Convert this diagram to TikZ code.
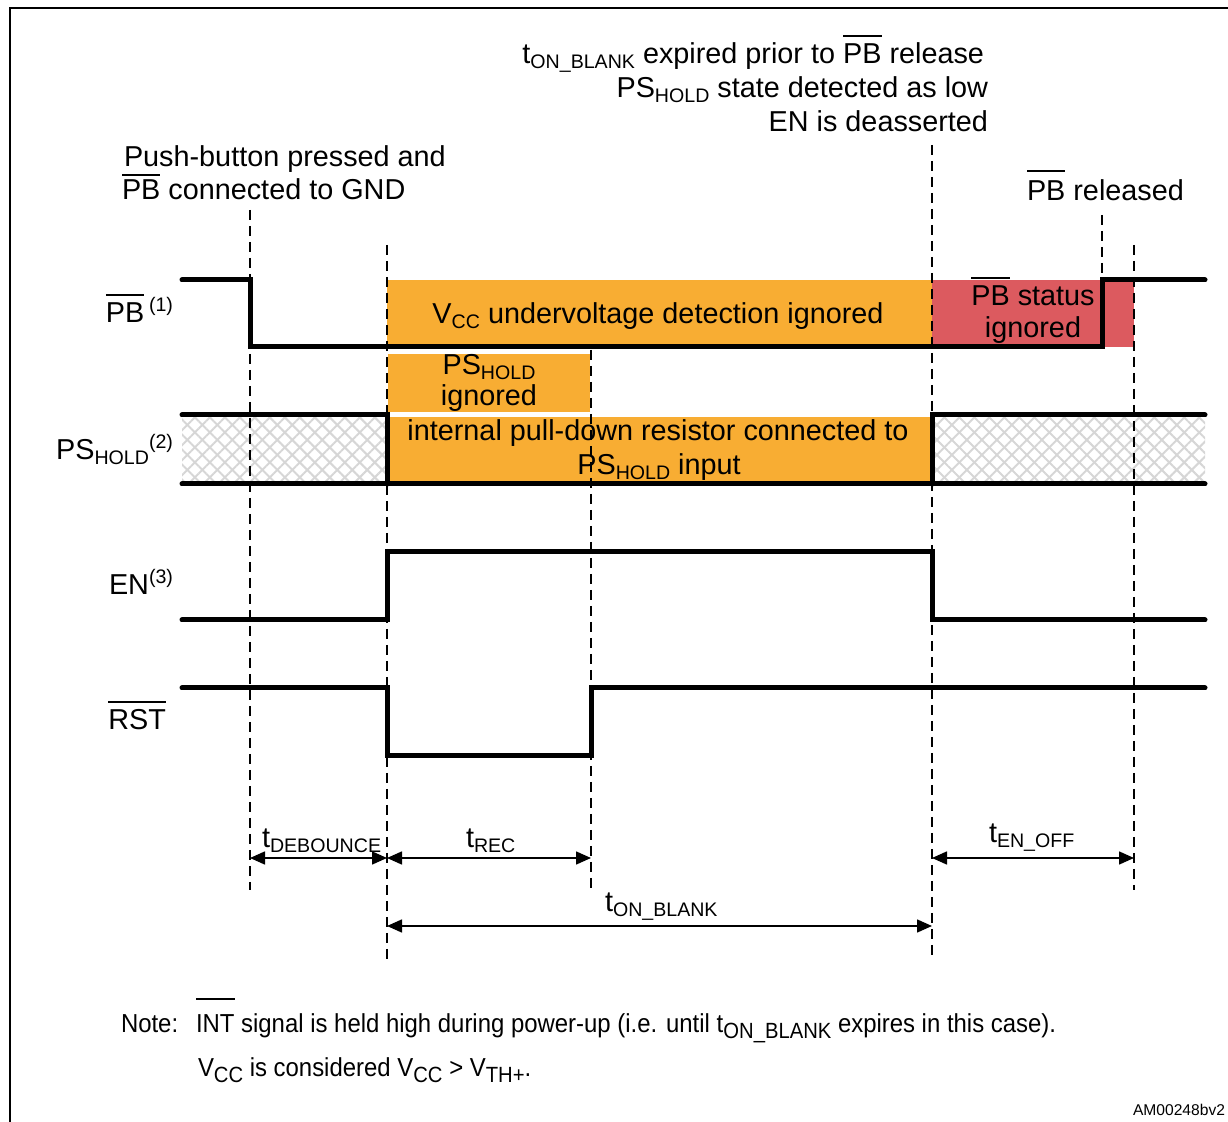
\documentclass[tikz,border=0pt]{standalone}
\usepackage{fontspec}
\setmainfont{Liberation Sans}
\newfontfamily\narrowfont[FakeStretch=0.92]{Liberation Sans}
\usetikzlibrary{arrows.meta,patterns.meta}
\definecolor{ignorange}{RGB}{248,173,51}
\definecolor{ignred}{RGB}{220,90,95}
\newcommand\sbs[1]{\raisebox{-2.2pt}{\fontsize{9.8}{10}\selectfont #1}}
\newcommand\sps[1]{\raisebox{5.5pt}{\fontsize{9.8}{10}\selectfont #1}}
\newcommand\nsb[1]{\raisebox{-3pt}{\fontsize{11}{11}\selectfont #1}}
\newcommand\ovl[2][13.5pt]{\setbox0\hbox{#2}\rlap{\raisebox{#1}{\rule{\wd0}{0.8pt}}}\box0\relax}
\begin{document}
\begin{tikzpicture}[x=0.5pt,y=-0.5pt,
  font=\fontsize{14.4}{17}\selectfont,
  sig/.style={line width=2.5pt,line cap=round,line join=miter},
  guide/.style={line width=1pt,dash pattern=on 5pt off 3pt},
  dim/.style={line width=0.8pt,{Triangle[length=7.5pt,width=6.5pt]}-{Triangle[length=7.5pt,width=6.5pt]}},
  txt/.style={inner sep=0pt,outer sep=0pt},
  hatch/.style={pattern={Lines[angle=45,distance=5.3pt,line width=1pt]},pattern color=black!16},
  hatchb/.style={pattern={Lines[angle=-45,distance=5.3pt,line width=1pt]},pattern color=black!16}]
\useasboundingbox (0,0) rectangle (1228,1122);
% frame
\draw[line width=1pt] (10,1122) -- (10,8) -- (1228,8);
% coloured regions
\fill[ignorange] (387,280) rectangle (932,347);
\fill[ignred] (932,280) rectangle (1134,347);
\fill[ignorange] (388,354) rectangle (590,412);
\fill[ignorange] (387,417) rectangle (932,484);
\fill[hatch] (182,415) rectangle (387,484);
\fill[hatchb] (182,415) rectangle (387,484);
\fill[hatch] (932,415) rectangle (1205,484);
\fill[hatchb] (932,415) rectangle (1205,484);
% guides
\coordinate (g1t) at (250,210); \coordinate (g1b) at (250,890);
\coordinate (g2t) at (387,245); \coordinate (g2b) at (387,960);
\coordinate (g3t) at (591,350); \coordinate (g3b) at (591,890);
\coordinate (g4t) at (932,145); \coordinate (g4b) at (932,960);
\coordinate (g5t) at (1102,215); \coordinate (g5b) at (1102,280);
\coordinate (g6t) at (1134,245); \coordinate (g6b) at (1134,890);
\draw[guide] (g1t) -- (g1b);
\draw[guide] (g2t) -- (g2b);
\draw[guide] (g3t) -- (g3b);
\draw[guide] (g4t) -- (g4b);
\draw[guide] (g5t) -- (g5b);
\draw[guide] (g6t) -- (g6b);
% signals
\draw[sig] (182,280) -- (250,280) -- (250,347) -- (1102,347) -- (1102,280) -- (1205,280);
\draw[sig] (182,415) -- (387,415) -- (387,484);
\draw[sig] (1205,415) -- (932,415) -- (932,484);
\draw[sig] (182,484) -- (1205,484);
\draw[sig] (182,620) -- (387,620) -- (387,552) -- (932,552) -- (932,620) -- (1205,620);
\draw[sig] (182,688) -- (387,688) -- (387,756) -- (591,756) -- (591,688) -- (1205,688);
% dimension arrows
\coordinate (d1) at (250,858); \coordinate (d2) at (387,858);
\coordinate (d3) at (591,858); \coordinate (d4) at (932,858);
\coordinate (d5) at (1134,858);
\coordinate (b1) at (387,926); \coordinate (b2) at (932,926);
\draw[dim] (d1) -- (d2);
\draw[dim] (d2) -- (d3);
\draw[dim] (d4) -- (d5);
\draw[dim] (b1) -- (b2);
\node[txt,anchor=base west] (tdeb) at (262,848) {t\sbs{DEBOUNCE}};
\node[txt,anchor=base west] (trec) at (466,848) {t\sbs{REC}};
\node[txt,anchor=base west] (tenoff) at (989,843) {t\sbs{EN\_OFF}};
\node[txt,anchor=base west] (tonb) at (605,912) {t\sbs{ON\_BLANK}};
% signal names
\node[txt,anchor=base east] (lpb) at (173,323) {\ovl{PB}\,\sps{(1)}};
\node[txt,anchor=base east] (lps) at (173,460) {PS\sbs{HOLD}\sps{(2)}};
\node[txt,anchor=base east] (len) at (173,595) {EN\sps{(3)}};
\node[txt,anchor=base east] (lrst) at (166,730) {\ovl{RST}};
% annotations
\node[txt,anchor=base west] (push1) at (124,167) {Push-button pressed and};
\node[txt,anchor=base west] (push2) at (122,200) {\ovl[12pt]{PB} connected to GND};
\node[txt,anchor=base east] (exp1) at (984,64) {t\sbs{ON\_BLANK} expired prior to \ovl{PB} release};
\node[txt,anchor=base east] (exp2) at (988,98) {PS\sbs{HOLD} state detected as low};
\node[txt,anchor=base east] (exp3) at (988,132) {EN is deasserted};
\node[txt,anchor=base west] (rel) at (1027,201) {\ovl[14.5pt]{PB} released};
% box texts
\node[txt,anchor=base] (uv) at (658,324) {V\sbs{CC} undervoltage detection ignored};
\node[txt,anchor=base] (st1) at (1033,306) {\ovl{PB} status};
\node[txt,anchor=base] (st2) at (1033,338) {ignored};
\node[txt,anchor=base] (ph1) at (489,375) {PS\sbs{HOLD}};
\node[txt,anchor=base] (ph2) at (489,406) {ignored};
\node[txt,anchor=base] (pd1) at (658,441) {internal pull-down resistor connected to};
\node[txt,anchor=base] (pd2) at (659,475) {PS\sbs{HOLD} input};
% note
\begin{scope}[font=\narrowfont\fontsize{13}{15}\selectfont]
\node[txt,anchor=base west] (note) at (121,1033) {Note:};
\node[txt,anchor=base west] (note1) at (196,1033) {\ovl[16.5pt]{INT} signal is held high during power-up (i.e. until t\nsb{ON\_BLANK} expires in this case).};
\node[txt,anchor=base west] (note2) at (198,1077) {V\nsb{CC} is considered V\nsb{CC} > V\nsb{TH+}.};
\end{scope}
\node[txt,anchor=base east,font=\fontsize{7.8}{9}\selectfont] (ref) at (1225,1116) {AM00248bv2};
\end{tikzpicture}
\end{document}
